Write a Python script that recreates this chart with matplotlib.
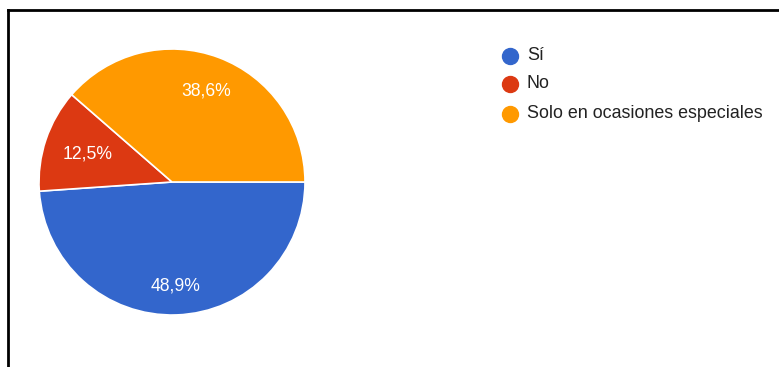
import numpy as np
import matplotlib
matplotlib.use("Agg")
import matplotlib.pyplot as plt
from matplotlib.lines import Line2D

# Answers and their shares (percent)
labels = ["Sí", "No", "Solo en ocasiones especiales"]
values = [48.9, 12.5, 38.6]
colors = ["#3366CC", "#DC3912", "#FF9900"]

W, H = 779, 367
fig = plt.figure(figsize=(W / 100, H / 100), dpi=100)
fig.patch.set_facecolor("white")
plt.rcParams["font.family"] = ["Liberation Sans", "DejaVu Sans"]

# Pie axes, placed in pixel terms
cx, cy, r = 172, 182, 133
ax = fig.add_axes([(cx - r) / W, (H - cy - r) / H, 2 * r / W, 2 * r / H])
wedges, _ = ax.pie(values, colors=colors, startangle=0, counterclock=False,
                   radius=1.0,
                   wedgeprops=dict(edgecolor="white", linewidth=1.2))
ax.set_xlim(-1, 1)
ax.set_ylim(-1, 1)
ax.set_aspect("equal")
ax.axis("off")

# Percentage labels inside each wedge
label_dist = [0.78, 0.67, 0.73]
for w, v, d in zip(wedges, values, label_dist):
    mid = np.deg2rad((w.theta1 + w.theta2) / 2)
    ax.text(d * np.cos(mid), d * np.sin(mid), f"{v:.1f}%".replace(".", ","),
            ha="center", va="center", color="white", fontsize=12.7)

# Legend
ys = [56, 84, 114]
for lab, col, y in zip(labels, colors, ys):
    fig.add_artist(Line2D([510 / W], [1 - y / H], marker="o", markersize=11.5,
                          color=col, markeredgecolor=col, linestyle="none",
                          transform=fig.transFigure))
    fig.text(527 / W, 1 - y / H, lab, ha="left", va="center",
             fontsize=12.9, color="#222222")

# Frame lines along the top and left
fig.add_artist(Line2D([7.5 / W, 1.0], [1 - 10 / H, 1 - 10 / H], color="black",
                      linewidth=2, transform=fig.transFigure))
fig.add_artist(Line2D([7.5 / W, 7.5 / W], [0.0, 1 - 10 / H], color="black",
                      linewidth=2, transform=fig.transFigure))

fig.savefig("out.png", dpi=100)
